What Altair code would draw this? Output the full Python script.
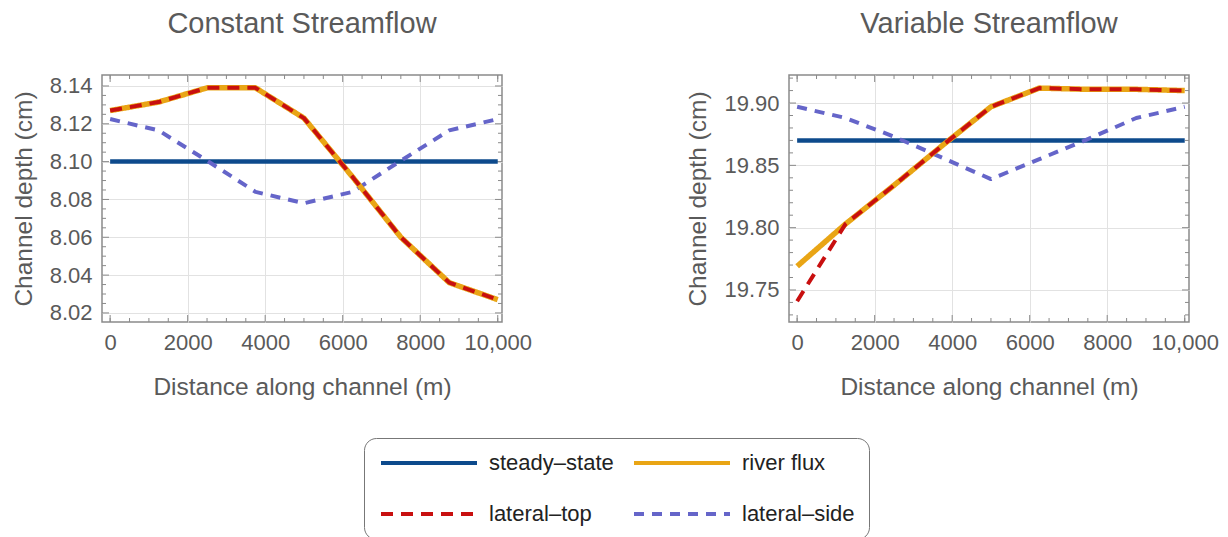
import altair as alt
import pandas as pd

# ---------------- data ----------------
X = [0, 1250, 2500, 3750, 5000, 6250, 7500, 8750, 10000]
SERIES = ["steady–state", "river flux", "lateral–top", "lateral–side"]
COLORS = ["#0D4A8C", "#E9A515", "#C80F0F", "#6565C9"]
DASHES = [[1, 0], [1, 0], [12, 8], [10, 8]]
WIDTHS = [4.5, 5.5, 4, 4]
DRAW_ORDER = ["steady–state", "lateral–side", "river flux", "lateral–top"]

C_STEADY = [8.100, 8.100, 8.100, 8.100, 8.100, 8.100, 8.100, 8.100, 8.100]
C_RIVER = [8.127, 8.1315, 8.139, 8.139, 8.123, 8.092, 8.060, 8.036, 8.027]
C_TOP = [8.127, 8.1315, 8.139, 8.139, 8.123, 8.092, 8.060, 8.036, 8.027]
C_SIDE = [8.1225, 8.1165, 8.1005, 8.084, 8.078, 8.084, 8.1005, 8.1165, 8.1225]

V_STEADY = [19.870, 19.870, 19.870, 19.870, 19.870, 19.870, 19.870, 19.870, 19.870]
V_RIVER = [19.769, 19.803, 19.834, 19.866, 19.897, 19.912, 19.911, 19.911, 19.910]
V_TOP = [19.741, 19.803, 19.834, 19.866, 19.897, 19.912, 19.911, 19.911, 19.910]
V_SIDE = [19.897, 19.888, 19.873, 19.856, 19.839, 19.855, 19.871, 19.888, 19.897]

X_LABELS = [0, 2000, 4000, 6000, 8000, 10000]
X_MINOR = [0, 500, 1000, 1500, 2500, 3000, 3500, 4500, 5000, 5500, 6500, 7000,
           7500, 8500, 9000, 9500, 10000]
C_Y_LABELS = [8.02, 8.04, 8.06, 8.08, 8.10, 8.12, 8.14]
C_Y_MINOR = [8.025, 8.03, 8.035, 8.045, 8.05, 8.055, 8.065, 8.07, 8.075, 8.085,
             8.09, 8.095, 8.105, 8.11, 8.115, 8.125, 8.13, 8.135]
V_Y_LABELS = [19.75, 19.80, 19.85, 19.90]
V_Y_MINOR = [19.73, 19.74, 19.76, 19.77, 19.78, 19.79, 19.81, 19.82, 19.83, 19.84,
             19.86, 19.87, 19.88, 19.89, 19.91, 19.92]

W, H = 400, 247
FONT = "Liberation Sans"
GREY = "#5a5a5a"
FRAME = "#8a8a8a"


def long_df(vals):
    rows = []
    for name, ys in zip(SERIES, vals):
        for x, y in zip(X, ys):
            rows.append({"series": name, "x": x, "y": y})
    return pd.DataFrame(rows)


def panel(vals, title, ydomain, ylabels, yminor):
    df = long_df(vals)
    xs = alt.Scale(domain=[-210, 10110], nice=False, zero=False)
    ys = alt.Scale(domain=ydomain, nice=False, zero=False)
    xaxis = alt.Axis(
        values=X_LABELS, title="Distance along channel (m)",
        labelExpr="datum.value == 10000 ? '10,000' : format(datum.value, 'd')",
        gridOpacity={"condition": {"test": "datum.value == 0 || datum.value == 10000",
                                   "value": 0}, "value": 1})
    yaxis = alt.Axis(values=ylabels, format=".2f", title="Channel depth (cm)")
    xenc = alt.X("x:Q", scale=xs, axis=xaxis)
    yenc = alt.Y("y:Q", scale=ys, axis=yaxis)
    color = alt.Color("series:N", scale=alt.Scale(domain=SERIES, range=COLORS),
                      title=None)
    dash = alt.StrokeDash("series:N", scale=alt.Scale(domain=SERIES, range=DASHES),
                          title=None)

    layers = []
    for name in DRAW_ORDER:
        w = WIDTHS[SERIES.index(name)]
        layers.append(
            alt.Chart(df).transform_filter(alt.datum.series == name)
            .mark_line(strokeWidth=w, strokeCap="butt", strokeJoin="round", clip=True)
            .encode(x=xenc, y=yenc, color=color, strokeDash=dash)
        )

    # inward frame ticks (Mathematica style)
    def xticks(vals_, ln):
        d = pd.DataFrame({"x": vals_})
        b = alt.Chart(d).mark_rule(color=FRAME, strokeWidth=1).encode(
            x=xenc, y=alt.value(H), y2=alt.value(H - ln))
        t = alt.Chart(d).mark_rule(color=FRAME, strokeWidth=1).encode(
            x=xenc, y=alt.value(0), y2=alt.value(ln))
        return [b, t]

    def yticks(vals_, ln):
        d = pd.DataFrame({"y": vals_})
        l = alt.Chart(d).mark_rule(color=FRAME, strokeWidth=1).encode(
            y=yenc, x=alt.value(0), x2=alt.value(ln))
        r = alt.Chart(d).mark_rule(color=FRAME, strokeWidth=1).encode(
            y=yenc, x=alt.value(W), x2=alt.value(W - ln))
        return [l, r]

    ticks = (xticks(X_LABELS, 7) + xticks(X_MINOR, 4)
             + yticks(ylabels, 7) + yticks(yminor, 4))

    return alt.layer(*(ticks + layers)).properties(
        width=W, height=H,
        title=alt.TitleParams(title, fontSize=29, color=GREY, font=FONT,
                              fontWeight="normal", anchor="middle", offset=36),
    )


left = panel([C_STEADY, C_RIVER, C_TOP, C_SIDE], "Constant Streamflow",
             [8.0152, 8.1458], C_Y_LABELS, C_Y_MINOR)
right = panel([V_STEADY, V_RIVER, V_TOP, V_SIDE], "Variable Streamflow",
              [19.7243, 19.9225], V_Y_LABELS, V_Y_MINOR)

chart = (
    alt.hconcat(left, right, spacing=287, bounds="flush")
    .resolve_scale(x="independent", y="independent", color="shared", strokeDash="shared")
    .resolve_legend(color="shared", strokeDash="shared")
    .properties(padding={"left": 10, "top": 8, "right": 4, "bottom": 0})
    .configure_view(stroke=FRAME, strokeWidth=1.5)
    .configure_axis(
        domain=False, ticks=False, grid=True, gridColor="#e2e2e2", gridWidth=1,
        labelFont=FONT, labelFontSize=22, labelColor=GREY, labelPadding=10,
        titleFont=FONT, titleFontSize=24.5, titleColor=GREY, titleFontWeight="normal",
    )
    .configure_axisX(titlePadding=22)
    .configure_axisY(titlePadding=13)
    .configure_legend(
        orient="none", legendX=262, legendY=363, columns=2, direction="horizontal",
        symbolType="M-1.333,0H14.667", symbolSize=144, symbolStrokeWidth=4,
        labelFont=FONT, labelFontSize=22,
        labelColor="#222222", labelOffset=89, columnPadding=12, rowPadding=29,
        padding=14, strokeColor="#777777", fillColor="white", cornerRadius=12,
        labelLimit=300,
    )
)

chart.save("out.html", embed_options={"renderer": "svg", "actions": False})
